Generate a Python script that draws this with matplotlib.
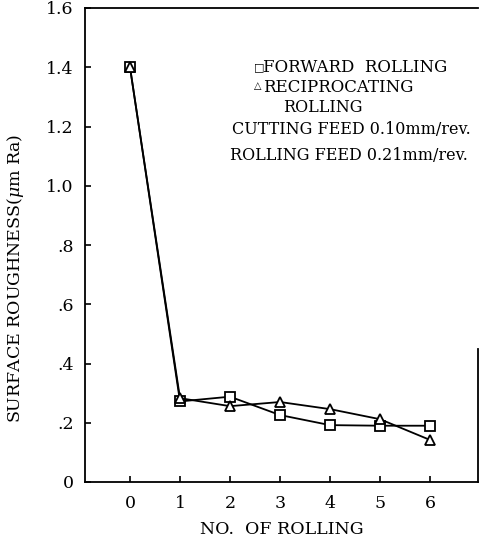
import matplotlib
matplotlib.use('Agg')
import matplotlib.pyplot as plt

# numero de pasadas y rugosidad (um Ra)
n_rolling = [0, 1, 2, 3, 4, 5, 6]
forward = [1.40, 0.272, 0.288, 0.226, 0.192, 0.190, 0.190]
reciprocating = [1.40, 0.283, 0.256, 0.270, 0.246, 0.212, 0.142]
ytick_vals = [0, 0.2, 0.4, 0.6, 0.8, 1.0, 1.2, 1.4, 1.6]
ytick_labels = ['0', '.2', '.4', '.6', '.8', '1.0', '1.2', '1.4', '1.6']

plt.rcParams['font.family'] = ['DejaVu Serif', 'DejaVu Sans']
plt.rcParams['mathtext.fontset'] = 'dejavuserif'

W, H = 480, 547
fig = plt.figure(figsize=(W / 100, H / 100), dpi=100)
ax = fig.add_axes([85 / W, 1 - 482 / H, (478 - 85) / W, (482 - 8) / H])

ax.plot(n_rolling, forward, '-s', color='black', lw=1.3, ms=7,
        mfc='white', mec='black', mew=1.3, zorder=3)
ax.plot(n_rolling, reciprocating, '-^', color='black', lw=1.3, ms=7,
        mfc='white', mec='black', mew=1.3, zorder=3)

ax.set_xlim(-0.9, 6.96)
ax.set_ylim(0, 1.6)
ax.set_xticks(n_rolling)
ax.set_yticks(ytick_vals)
ax.set_yticklabels(ytick_labels)
ax.tick_params(direction='in', length=4, width=1.2, labelsize=12.5, pad=8)
ax.tick_params(axis='x', pad=9)
for s in ax.spines.values():
    s.set_linewidth(1.3)
ax.spines['right'].set_bounds(0, 0.45)

def ftext(px, py, s, **kw):
    fig.text(px / W, 1 - py / H, s, va='center', **kw)

# etiquetas de ejes
ftext(282, 530, 'NO.  OF ROLLING', fontsize=12.5, ha='center')
ftext(16, 278, r'SURFACE ROUGHNESS($\mu$m Ra)', fontsize=12.5,
      ha='center', rotation=90)

# leyenda escrita dentro del grafico
ftext(254, 67, '\u25a1', fontsize=8)
ftext(263, 67, 'FORWARD  ROLLING', fontsize=12)
ftext(254, 86, '\u25b3', fontsize=7)
ftext(263, 88, 'RECIPROCATING', fontsize=12)
ftext(283, 107, 'ROLLING', fontsize=11.5)
ftext(232, 129, 'CUTTING FEED 0.10mm/rev.', fontsize=11.5)
ftext(230, 155, 'ROLLING FEED 0.21mm/rev.', fontsize=11.5)

plt.savefig('out.png', dpi=100)
